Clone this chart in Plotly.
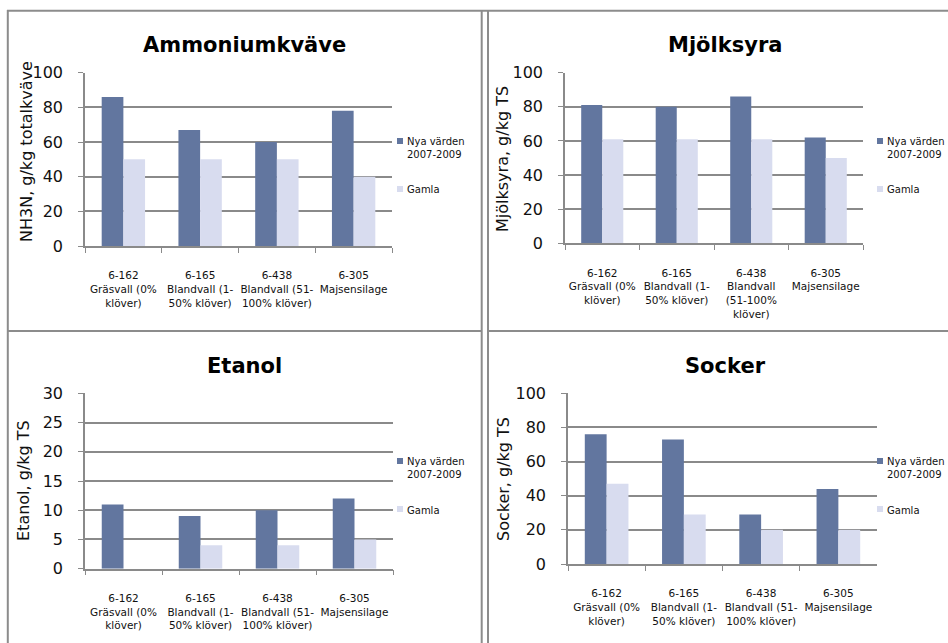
import plotly.graph_objects as go

# ---------------- data ----------------
categories = ["6-162", "6-165", "6-438", "6-305"]

labels_std = [
    "6-162<br>Gräsvall (0%<br>klöver)",
    "6-165<br>Blandvall (1-<br>50% klöver)",
    "6-438<br>Blandvall (51-<br>100% klöver)",
    "6-305<br>Majsensilage",
]
labels_mjolk = [
    "6-162<br>Gräsvall (0%<br>klöver)",
    "6-165<br>Blandvall (1-<br>50% klöver)",
    "6-438<br>Blandvall<br>(51-100%<br>klöver)",
    "6-305<br>Majsensilage",
]

series_names = ["Nya värden<br>2007-2009", "Gamla"]

ammonium_new = [86, 67, 60, 78]
ammonium_old = [50, 50, 50, 40]

mjolksyra_new = [81, 80, 86, 62]
mjolksyra_old = [61, 61, 61, 50]

etanol_new = [11, 9, 10, 12]
etanol_old = [None, 4, 4, 5]

socker_new = [76, 73, 29, 44]
socker_old = [47, 29, 20, 20]

titles = ["Ammoniumkväve", "Mjölksyra", "Etanol", "Socker"]
ytitles = ["NH3N, g/kg totalkväve", "Mjölksyra, g/kg TS", "Etanol, g/kg TS", "Socker, g/kg TS"]
ymax = [100, 100, 30, 100]
ydtick = [20, 20, 5, 20]

# ---------------- styling ----------------
W, H = 948, 643
DARK = "#62769f"
LIGHT = "#d8dcef"
GRID = "#8a8a8a"
BORDER = "#8c8c8c"
FONT = "DejaVu Sans"


def px(x):
    return x / W


def py(y):
    return 1 - y / H


# pixel boxes of each plot area: (left, right, top, bottom)
boxes = [
    (85, 392, 72.7, 246),
    (565, 863, 72.7, 243.3),
    (85, 393, 393.3, 568.7),
    (568, 877, 393.3, 564),
]
title_pos = [(244, 45), (725, 45), (244, 366), (725, 366)]
ytitle_pos = [(27, 152), (503, 159), (23, 481), (503, 479)]
legend_pos = [(397, 142, 190), (877, 142, 190), (397, 462, 510), (877, 462, 510)]

new_vals = [ammonium_new, mjolksyra_new, etanol_new, socker_new]
old_vals = [ammonium_old, mjolksyra_old, etanol_old, socker_old]
tick_sets = [labels_std, labels_mjolk, labels_std, labels_std]

fig = go.Figure()
annotations = []
shapes = []
layout_axes = {}

for i in range(4):
    n = i + 1
    xa = "x" if n == 1 else f"x{n}"
    ya = "y" if n == 1 else f"y{n}"
    fig.add_trace(go.Bar(x=categories, y=new_vals[i], xaxis=xa, yaxis=ya,
                         marker=dict(color=DARK, line=dict(width=0)),
                         name="Nya värden 2007-2009", showlegend=False))
    fig.add_trace(go.Bar(x=categories, y=old_vals[i], xaxis=xa, yaxis=ya,
                         marker=dict(color=LIGHT, line=dict(width=0)),
                         name="Gamla", showlegend=False))
    l, r, t, b = boxes[i]
    xkey = "xaxis" if n == 1 else f"xaxis{n}"
    ykey = "yaxis" if n == 1 else f"yaxis{n}"
    layout_axes[xkey] = dict(
        domain=[px(l), px(r)], anchor=ya, type="category",
        tickmode="array", tickvals=categories, ticktext=tick_sets[i],
        tickangle=0, automargin=False,
        showline=True, linecolor=GRID, linewidth=1.5,
        ticks="outside", tickson="boundaries", ticklen=5, tickcolor=GRID, tickwidth=1,
        ticklabelstandoff=19,
        tickfont=dict(family=FONT, size=10.5, color="#111"),
        showgrid=False, fixedrange=True,
    )
    layout_axes[ykey] = dict(
        domain=[py(b), py(t)], anchor=xa, automargin=False,
        range=[0, ymax[i]], dtick=ydtick[i], tick0=0,
        showline=True, linecolor=GRID, linewidth=1.5,
        ticks="outside", ticklen=5, tickcolor=GRID, tickwidth=1,
        showgrid=True, gridcolor=GRID, gridwidth=1.5,
        zeroline=False, ticklabelstandoff=12,
        tickfont=dict(family=FONT, size=16, color="#111"),
        fixedrange=True,
    )
    # chart title
    tx, ty = title_pos[i]
    annotations.append(dict(text=titles[i], x=px(tx), y=py(ty), xref="paper", yref="paper",
                            xanchor="center", yanchor="middle", showarrow=False,
                            font=dict(family=FONT, size=21, color="#000", weight="bold")))
    # y-axis title
    ax, ay = ytitle_pos[i]
    annotations.append(dict(text=ytitles[i], x=px(ax), y=py(ay), xref="paper", yref="paper",
                            xanchor="center", yanchor="middle", showarrow=False, textangle=-90,
                            font=dict(family=FONT, size=16, color="#111")))
    # legend
    lx, ly1, ly2 = legend_pos[i]
    for name, color, yy, yc in ((series_names[0], DARK, ly1 + 6, ly1), (series_names[1], LIGHT, ly2, ly2)):
        annotations.append(dict(text=name, x=px(lx + 8), y=py(yy), xref="paper", yref="paper",
                                xanchor="left", yanchor="middle", align="left", showarrow=False,
                                font=dict(family=FONT, size=10, color="#111")))
        shapes.append(dict(type="rect", xref="paper", yref="paper",
                           x0=px(lx), x1=px(lx + 6), y0=py(yc + 2), y1=py(yc - 4),
                           fillcolor=color, line=dict(width=0)))

# table borders
line_style = dict(color=BORDER, width=2)
shapes += [
    dict(type="line", xref="paper", yref="paper", x0=px(7), x1=px(948), y0=py(10.7), y1=py(10.7), line=line_style),
    dict(type="line", xref="paper", yref="paper", x0=px(7.8), x1=px(7.8), y0=py(10), y1=py(643), line=line_style),
    dict(type="line", xref="paper", yref="paper", x0=px(481.7), x1=px(481.7), y0=py(10), y1=py(643), line=line_style),
    dict(type="line", xref="paper", yref="paper", x0=px(488), x1=px(488), y0=py(10), y1=py(643), line=line_style),
    dict(type="line", xref="paper", yref="paper", x0=px(7), x1=px(481.7), y0=py(331), y1=py(331), line=line_style),
    dict(type="line", xref="paper", yref="paper", x0=px(488), x1=px(948), y0=py(331), y1=py(331), line=line_style),
]

fig.update_layout(
    width=W, height=H,
    margin=dict(l=0, r=0, t=0, b=0, pad=0, autoexpand=False),
    paper_bgcolor="white", plot_bgcolor="white",
    barmode="group", bargap=0.435, bargroupgap=0,
    showlegend=False,
    font=dict(family=FONT, color="#111"),
    annotations=annotations, shapes=shapes,
    **layout_axes,
)

fig.write_html(
    "out.html",
    config={"displayModeBar": False},
    post_script="document.body.style.margin='0';document.body.style.overflow='hidden';",
)
